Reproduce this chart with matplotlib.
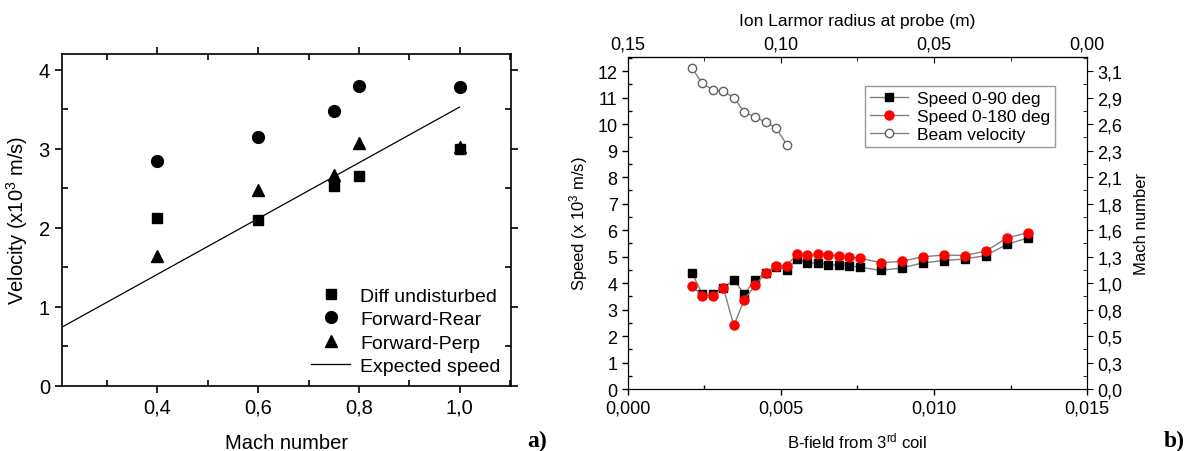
import numpy as np
import matplotlib
matplotlib.use('Agg')
import matplotlib.pyplot as plt
from matplotlib import ticker

plt.rcParams['font.family'] = ['Liberation Sans', 'DejaVu Sans']
plt.rcParams['mathtext.default'] = 'regular'

# ---- panel a) data ----
mach = [0.4, 0.6, 0.75, 0.8, 1.0]
diff_undisturbed = [2.13, 2.10, 2.53, 2.66, 3.00]
forward_rear = [2.85, 3.15, 3.48, 3.80, 3.78]
forward_perp = [1.64, 2.48, 2.67, 3.07, 3.03]
expected_mach = [0.21, 1.0]
expected_speed = [0.74, 3.53]

# ---- panel b) data ----
bfield = [0.00210, 0.00243, 0.00278, 0.00312, 0.00346, 0.00380, 0.00415,
          0.00450, 0.00484, 0.00519, 0.00552, 0.00586, 0.00621, 0.00655,
          0.00689, 0.00723, 0.00757, 0.00826, 0.00895, 0.00963, 0.01033,
          0.01101, 0.01170, 0.01238, 0.01306]
speed_90 = [4.38, 3.57, 3.60, 3.81, 4.13, 3.58, 4.13, 4.38, 4.60, 4.51,
            4.89, 4.76, 4.76, 4.69, 4.69, 4.65, 4.60, 4.48, 4.57, 4.76,
            4.85, 4.91, 5.04, 5.46, 5.70]
speed_180 = [3.88, 3.53, 3.53, 3.81, 2.40, 3.37, 3.91, 4.38, 4.65, 4.65,
             5.10, 5.06, 5.09, 5.06, 5.03, 4.99, 4.94, 4.77, 4.82, 4.99,
             5.06, 5.04, 5.21, 5.70, 5.90]
beam_bfield = bfield[:10]
beam_velocity = [12.10, 11.53, 11.29, 11.23, 11.00, 10.44, 10.28, 10.06,
                 9.85, 9.22]
mach_ticks = ['0,0', '0,3', '0,5', '0,8', '1,0', '1,3', '1,6', '1,8', '2,1',
              '2,3', '2,6', '2,9', '3,1']


def comma(fmt):
    return ticker.FuncFormatter(lambda v, p: (fmt % v).replace('.', ','))


fig = plt.figure(figsize=(11.87, 4.52), dpi=100)

# ---------------- a) ----------------
ax1 = fig.add_axes([0.052, 0.1445, 0.3785, 0.7335])
ax1.plot(mach, diff_undisturbed, 's', color='black', ms=7.5, label='Diff undisturbed')
ax1.plot(mach, forward_rear, 'o', color='black', ms=8.5, label='Forward-Rear')
ax1.plot(mach, forward_perp, '^', color='black', ms=8.5, label='Forward-Perp')
ax1.plot(expected_mach, expected_speed, '-', color='black', lw=0.9, label='Expected speed')
ax1.set_xlim(0.21, 1.102)
ax1.set_ylim(0, 4.2)
ax1.xaxis.set_major_locator(ticker.FixedLocator([0.4, 0.6, 0.8, 1.0]))
ax1.xaxis.set_minor_locator(ticker.MultipleLocator(0.1))
ax1.yaxis.set_major_locator(ticker.MultipleLocator(1))
ax1.yaxis.set_minor_locator(ticker.MultipleLocator(0.5))
ax1.xaxis.set_major_formatter(comma('%.1f'))
ax1.tick_params(which='both', top=True, right=True, labelsize=14.5, width=1.2)
ax1.tick_params(which='major', length=5, direction='out')
ax1.tick_params(which='minor', length=4, direction='in')
for s in ax1.spines.values():
    s.set_linewidth(1.2)
ax1.set_xlabel('Mach number', fontsize=14.5, labelpad=12)
ax1.set_ylabel('Velocity (x10$^3$ m/s)', fontsize=14.5, labelpad=6)
ax1.legend(loc='lower right', bbox_to_anchor=(1.0, 0.0), frameon=False,
           fontsize=14, handlelength=2.0, handletextpad=0.5,
           labelspacing=0.3, borderaxespad=0.15)
fig.text(0.444, 0.012, 'a)', fontsize=17, fontweight='bold',
         family='Liberation Serif')

# ---------------- b) ----------------
ax2 = fig.add_axes([0.529, 0.137, 0.3868, 0.7347])
ax2.plot(bfield, speed_90, '-s', color='#808080', mfc='black', mec='black',
         ms=5.5, lw=1, label='Speed 0-90 deg')
ax2.plot(bfield, speed_180, '-o', color='#808080', mfc='red', mec='red',
         ms=6.5, lw=1, label='Speed 0-180 deg')
ax2.plot(beam_bfield, beam_velocity, '-o', color='#808080', mfc='white',
         mec='#606060', ms=6, lw=1, label='Beam velocity')
ax2.set_xlim(0, 0.015)
ax2.set_ylim(0, 12.53)
ax2.xaxis.set_major_locator(ticker.MultipleLocator(0.005))
ax2.xaxis.set_minor_locator(ticker.MultipleLocator(0.0025))
ax2.yaxis.set_major_locator(ticker.MultipleLocator(1))
ax2.yaxis.set_minor_locator(ticker.MultipleLocator(0.5))
ax2.xaxis.set_major_formatter(comma('%.3f'))
ax2.tick_params(which='both', labelsize=13, width=1)
ax2.tick_params(which='major', length=4, direction='out')
ax2.tick_params(which='minor', length=3, direction='in')
ax2.set_xlabel('B-field from 3$^{rd}$ coil', fontsize=12, labelpad=10)
ax2.set_ylabel('Speed (x 10$^3$ m/s)', fontsize=12, labelpad=5)

top = ax2.secondary_xaxis('top', functions=(lambda b: 0.15 - 10 * b,
                                            lambda r: (0.15 - r) / 10))
top.xaxis.set_major_locator(ticker.FixedLocator([0.15, 0.10, 0.05, 0.0]))
top.xaxis.set_minor_locator(ticker.FixedLocator([0.125, 0.075, 0.025]))
top.xaxis.set_major_formatter(comma('%.2f'))
top.tick_params(which='both', labelsize=13, direction='in')
top.tick_params(which='major', length=4)
top.tick_params(which='minor', length=3)
top.set_xlabel('Ion Larmor radius at probe (m)', fontsize=12.5, labelpad=7)

right = ax2.twinx()
right.set_ylim(ax2.get_ylim())
right.yaxis.set_major_locator(ticker.FixedLocator(np.arange(len(mach_ticks))))
right.set_yticklabels(mach_ticks)
right.yaxis.set_minor_locator(ticker.MultipleLocator(0.5))
right.tick_params(which='both', labelsize=13)
right.tick_params(which='major', length=4, direction='out')
right.tick_params(which='minor', length=3, direction='in')
right.set_ylabel('Mach number', fontsize=12, labelpad=8)

leg = ax2.legend(loc='upper left', bbox_to_anchor=(0.516, 0.913),
                 fontsize=12.5, fancybox=False, edgecolor='#808080',
                 handlelength=2.2, handletextpad=0.5, labelspacing=0.15,
                 borderaxespad=0, borderpad=0.3)
leg.get_frame().set_linewidth(1)
fig.text(0.998, 0.012, 'b)', fontsize=17, fontweight='bold',
         family='Liberation Serif', ha='right')

fig.savefig('out.png', dpi=100)
